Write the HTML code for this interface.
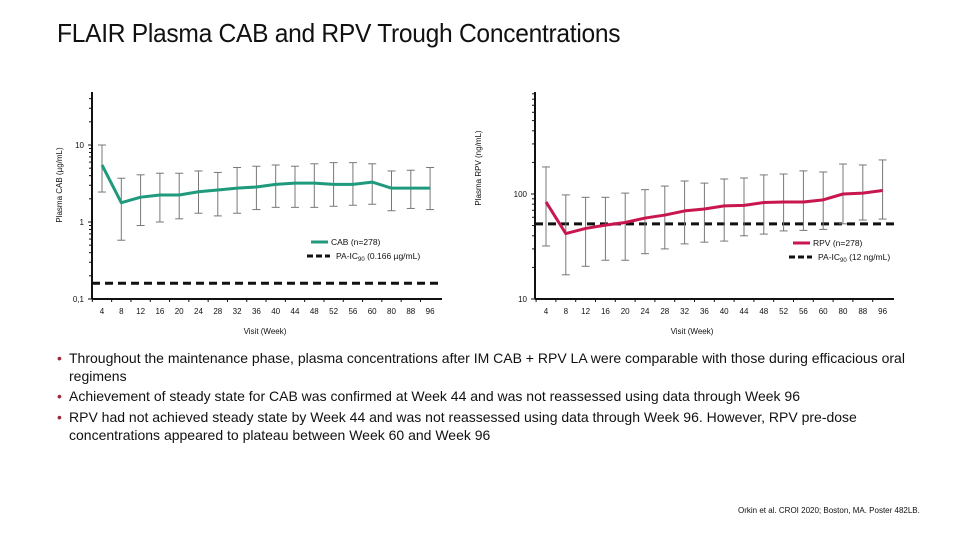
<!DOCTYPE html>
<html><head><meta charset="utf-8"><style>
body{margin:0;width:960px;height:540px;background:#fff;overflow:hidden;position:relative;font-family:"Liberation Sans",sans-serif}
#title{position:absolute;left:57px;top:18px;font-size:26px;color:#111;letter-spacing:-0.3px;transform:scaleX(0.945);transform-origin:0 0;white-space:nowrap}
.bul{position:absolute;left:69px;font-size:14px;line-height:18px;color:#111;width:860px}
.bul:before{content:"•";position:absolute;left:-12px;color:#9b2a3f}
#ref{position:absolute;left:738px;top:506px;font-size:8px;color:#111}
svg{position:absolute;left:0;top:0}
</style></head><body>
<div id="title">FLAIR Plasma CAB and RPV Trough Concentrations</div>
<svg id="chart" width="960" height="540"></svg>
<div class="bul" style="top:349px">Throughout the maintenance phase, plasma concentrations after IM CAB + RPV LA were comparable with those during efficacious oral regimens</div>
<div class="bul" style="top:387px">Achievement of steady state for CAB was confirmed at Week 44 and was not reassessed using data through Week 96</div>
<div class="bul" style="top:408px">RPV had not achieved steady state by Week 44 and was not reassessed using data through Week 96. However, RPV pre-dose concentrations appeared to plateau between Week 60 and Week 96</div>
<div id="ref">Orkin et al. CROI 2020; Boston, MA. Poster 482LB.</div>
<script>
const weeks=["4","8","12","16","20","24","28","32","36","40","44","48","52","56","60","80","88","96"];
const cabMean=[5.5,1.78,2.1,2.24,2.24,2.47,2.6,2.75,2.85,3.08,3.2,3.2,3.08,3.08,3.3,2.75,2.75,2.75];
const cabUpper=[10,3.7,4.1,4.3,4.3,4.6,4.4,5.1,5.3,5.5,5.3,5.7,5.9,5.9,5.7,4.6,4.7,5.1];
const cabLower=[2.45,0.58,0.9,1.0,1.1,1.3,1.2,1.3,1.45,1.55,1.55,1.55,1.6,1.65,1.7,1.4,1.5,1.45];
const cabTicks=[0.1,1,10];
const cabTickLabels=["0,1","1","10"];
const cabIC90=0.16;
const rpvMean=[84,42,47,50.5,53.5,59,63,69,72,77,78,83,84,84,88,100,102,108];
const rpvUpper=[181,98,93,93,102,110,119,133,127,139,142,152,155,166,162,193,189,211];
const rpvLower=[32,17,20.5,23.4,23.4,27,30,33.5,34.8,35.6,40,41.5,44.5,45,46,52,56.5,57.7];
const rpvTicks=[10,100];
const rpvTickLabels=["10","100"];
const rpvIC90=52;

const NS="http://www.w3.org/2000/svg";
const svg=document.getElementById('chart');
function mk(tag,attrs,parent){const e=document.createElementNS(NS,tag);for(const k in attrs)e.setAttribute(k,attrs[k]);(parent||svg).appendChild(e);return e;}
function txt(s,x,y,size,anchor,parent){const t=mk('text',{x:x,y:y,'font-size':size,'text-anchor':anchor||'start',fill:'#111','font-family':'Liberation Sans, sans-serif'},parent);t.textContent=s;return t;}

function chart(o){
  const g=mk('g',{});
  
  
  const y=v=>o.y0-(Math.log10(v)-Math.log10(o.vmin))*o.dec;
  const x=i=>o.x1+i*o.dx;
  const ya=mk('line',{x1:o.ax,y1:o.top,x2:o.ax,y2:o.y0,stroke:'#111','stroke-width':2},g);
  
  const xa=mk('line',{x1:o.ax,y1:o.y0,x2:o.xend,y2:o.y0,stroke:'#111','stroke-width':2},g);
  
  for(let d=o.vmin;d<o.vmax;d*=10){for(let m=1;m<10;m++){const v=d*m;if(v>o.vmax)break;const yy=y(v);if(yy<o.top)break;mk('line',{x1:o.ax-(m==1?4:3),y1:yy,x2:o.ax,y2:yy,stroke:'#111','stroke-width':1},g);}}
  o.ticks.forEach((t,i)=>{const l=txt(o.tickLabels[i],o.ax-8,y(t)+3,8,'end',g);});
  weeks.forEach((w,i)=>{const xx=x(i);mk('line',{x1:xx-o.dx/2,y1:o.y0,x2:xx-o.dx/2,y2:o.y0+3,stroke:'#111'},g);
    const l=txt(w,xx,o.y0+15,8,'middle',g);});
  const ic=mk('line',{x1:o.ax,y1:y(o.ic),x2:o.xend,y2:y(o.ic),stroke:'#111','stroke-width':3,'stroke-dasharray':'8,5'},g);
  
  weeks.forEach((w,i)=>{const xx=x(i);const e=mk('g',{},g);
    
    mk('line',{x1:xx,y1:y(o.up[i]),x2:xx,y2:y(o.lo[i]),stroke:'#777','stroke-width':1},e);
    mk('line',{x1:xx-4,y1:y(o.up[i]),x2:xx+4,y2:y(o.up[i]),stroke:'#777','stroke-width':1},e);
    mk('line',{x1:xx-4,y1:y(o.lo[i]),x2:xx+4,y2:y(o.lo[i]),stroke:'#777','stroke-width':1},e);});
  const p=mk('polyline',{points:o.mean.map((v,i)=>x(i)+','+y(v)).join(' '),fill:'none',stroke:o.color,'stroke-width':3,'stroke-linejoin':'round'},g);
  
  const yt=txt(o.ytitle,0,0,8,'middle',g);yt.setAttribute('transform',`translate(${o.ytx},${o.yty}) rotate(-90)`);
  
  const xt=txt('Visit (Week)',o.xtx,o.y0+35,8,'middle',g);
  
  const lg=mk('g',{},g);
  mk('line',{x1:o.lx,y1:o.ly,x2:o.lx+17,y2:o.ly,stroke:o.color,'stroke-width':3},lg);
  txt(o.lab1,o.lx+20,o.ly+3,8.5,'start',lg);
  mk('line',{x1:o.lx-4,y1:o.ly+14,x2:o.lx+19,y2:o.ly+14,stroke:'#111','stroke-width':3,'stroke-dasharray':'6,3'},lg);
  const t2=txt('',o.lx+25,o.ly+17,8.5,'start',lg);
  t2.innerHTML='PA-IC<tspan font-size="6" dy="2">90</tspan><tspan dy="-2"> '+o.lab2+'</tspan>';
}
chart({name:'cab-chart',ax:92,top:92,y0:299,xend:442,vmin:0.1,vmax:49,dec:77,x1:102,dx:19.3,ticks:cabTicks,tickLabels:cabTickLabels,
  ic:cabIC90,mean:cabMean,up:cabUpper,lo:cabLower,color:'#1f9a7c',seriesName:'cab-line',ytitle:'Plasma CAB (µg/mL)',ytx:62,yty:185,xtx:265,
  lx:311,ly:242,lab1:'CAB (n=278)',lab2:'(0.166 µg/mL)'});
chart({name:'rpv-chart',ax:535,top:92,y0:299,xend:894,vmin:10,vmax:900,dec:105,x1:546,dx:19.8,ticks:rpvTicks,tickLabels:rpvTickLabels,
  ic:rpvIC90,mean:rpvMean,up:rpvUpper,lo:rpvLower,color:'#c8174f',seriesName:'rpv-line',ytitle:'Plasma RPV (ng/mL)',ytx:481,yty:168,xtx:692,
  lx:793,ly:243,lab1:'RPV (n=278)',lab2:'(12 ng/mL)'});
</script>
</body></html>
